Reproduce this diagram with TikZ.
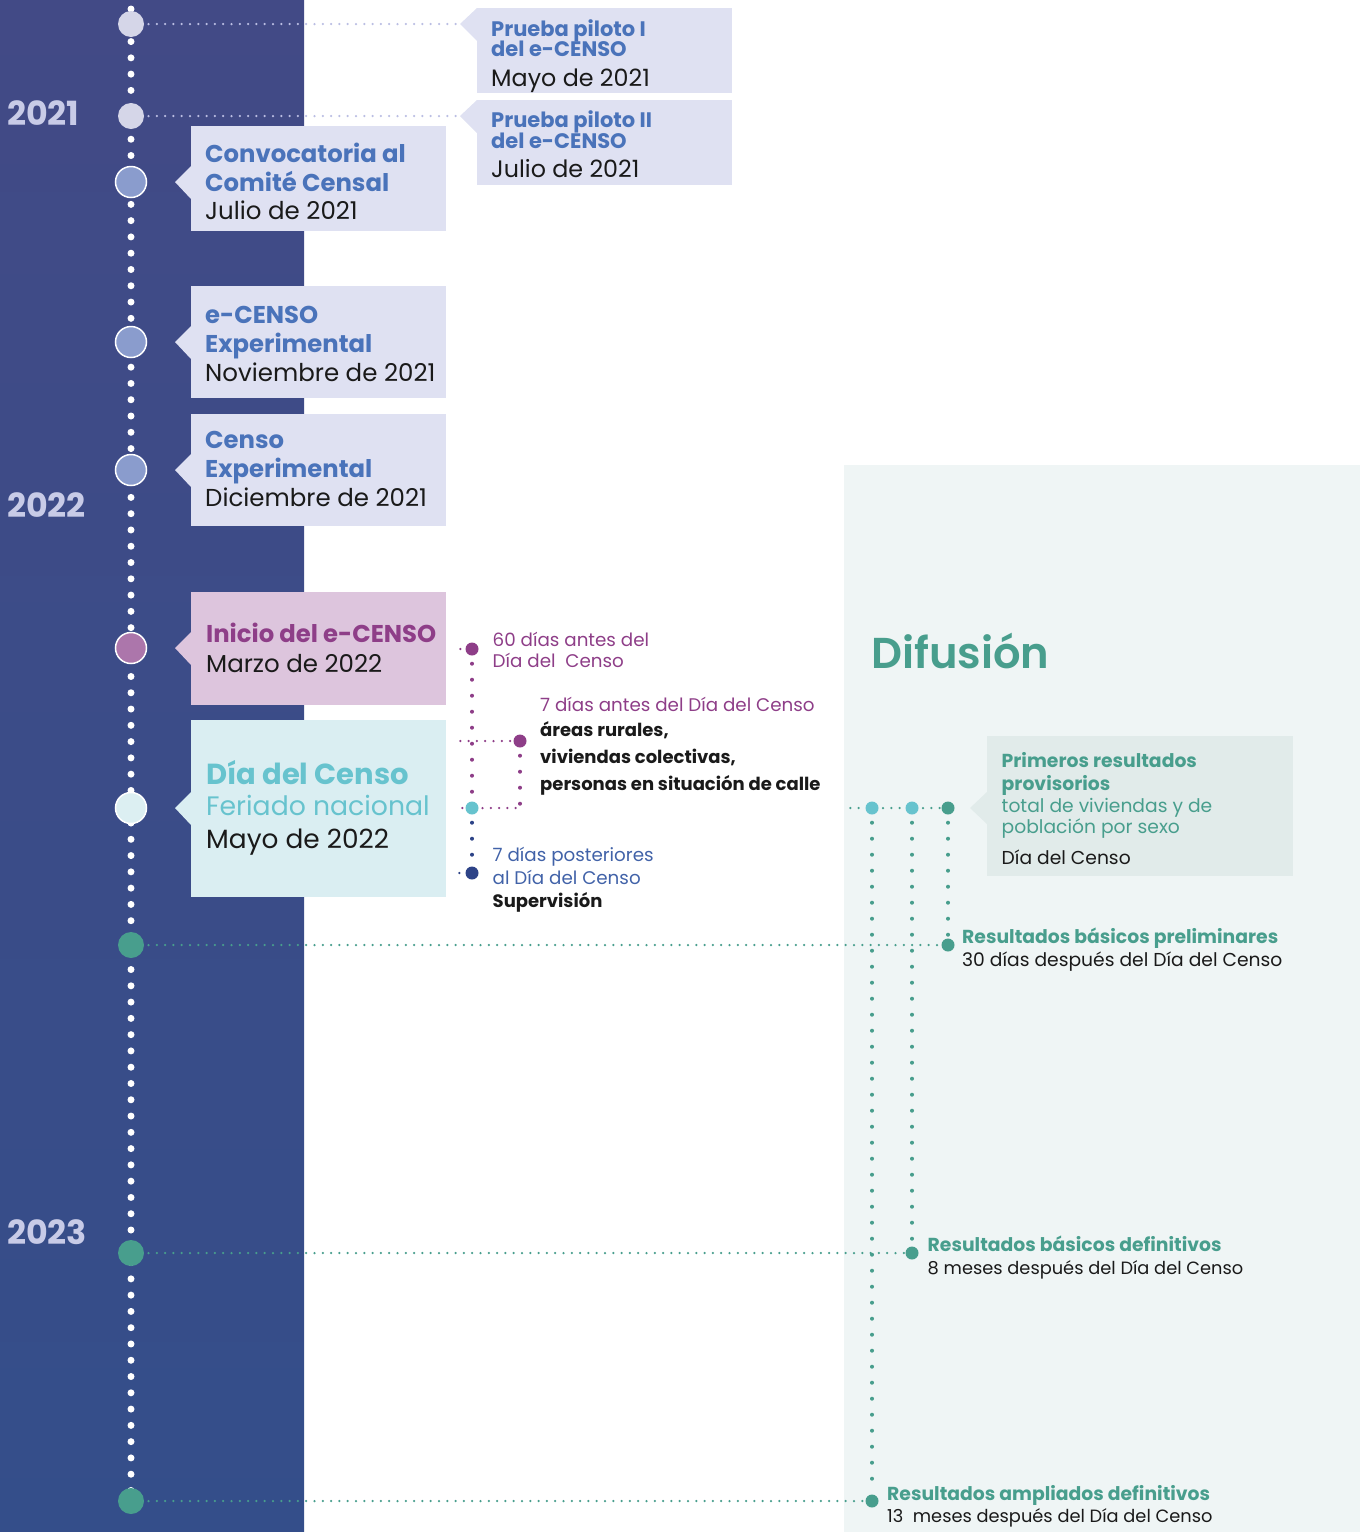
\documentclass[tikz,border=0pt]{standalone}
\usepackage{fontspec}
\setmainfont{Poppins}
\newfontfamily\semib{Poppins SemiBold}
\usetikzlibrary{positioning}

\definecolor{banda1}{RGB}{66,74,134}
\definecolor{banda2}{RGB}{52,78,138}
\definecolor{lavanda}{RGB}{223,225,242}
\definecolor{azulT}{RGB}{74,115,186}
\definecolor{hitoclaro}{RGB}{213,214,232}
\definecolor{hitomedio}{RGB}{138,156,205}
\definecolor{rosa}{RGB}{221,197,221}
\definecolor{morado}{RGB}{142,62,136}
\definecolor{moradoclaro}{RGB}{172,118,171}
\definecolor{celeste}{RGB}{218,238,242}
\definecolor{cian}{RGB}{103,195,206}
\definecolor{cianclaro}{RGB}{220,239,242}
\definecolor{verde}{RGB}{72,158,141}
\definecolor{anio}{RGB}{200,203,231}
\definecolor{panel}{RGB}{239,245,245}
\definecolor{panelcaja}{RGB}{225,235,234}
\definecolor{marino}{RGB}{45,67,135}
\definecolor{azultexto}{RGB}{65,98,168}
\definecolor{puntos}{RGB}{187,190,227}
\definecolor{texto}{RGB}{26,26,26}

\tikzset{
  caja/.style={fill=#1, anchor=north west, inner sep=0pt, minimum width=255pt},
  linea/.style={anchor=base west, inner sep=0pt},
  titA/.style={linea, text=azulT, font=\fontsize{21}{25}\selectfont\bfseries},
  fechaA/.style={linea, text=texto, font=\fontsize{23.8}{28}\selectfont},
  titB/.style={linea, text=#1, font=\fontsize{24.3}{29}\selectfont\bfseries},
  fechaB/.style={linea, text=texto, font=\fontsize{24.5}{29}\selectfont},
  chico/.style={linea, text=#1, font=\fontsize{18.3}{22}\selectfont},
  chicoN/.style={linea, text=#1, font=\fontsize{18}{22}\selectfont\bfseries},
  grande/.style={linea, text=#1, font=\fontsize{18.7}{22}\selectfont},
  grandeN/.style={linea, text=#1, font=\fontsize{18.8}{22}\selectfont\bfseries},
  anios/.style={linea, text=anio, font=\fontsize{33.3}{38}\selectfont\bfseries},
  hito/.style={circle, fill=#1, inner sep=0pt, minimum size=26pt},
  hitoborde/.style={circle, fill=#1, draw=white, line width=1.5pt, inner sep=0pt, minimum size=31pt},
  punto/.style={circle, fill=#1, inner sep=0pt, minimum size=13pt},
  trazo/.style={draw=#1, line width=2.5pt, line cap=round, dash pattern=on 0pt off 8.3pt, dash phase=4pt},
  vertical/.style={draw=#1, line width=4pt, line cap=round, dash pattern=on 0pt off 16pt, dash phase=8pt},
}

\begin{document}
\begin{tikzpicture}[x=1pt, y=-1pt]
  \useasboundingbox (0,0) rectangle (1360,1532);
  % fondos
  \shade[top color=banda1, bottom color=banda2] (0,0) rectangle (304,1532);
  \fill[panel] (844,465) rectangle (1360,1532);

  % linea de tiempo
  \coordinate (ini) at (131,9);
  \coordinate (fin) at (131,1523);
  \draw[white, line width=7pt, line cap=round, dash pattern=on 0pt off 16.28pt] (ini) -- (fin);

  \node[anios] (a21) at (7,125) {2021};
  \node[anios] (a22) at (7,517) {2022};
  \node[anios] (a23) at (7,1244) {2023};

  % cajas 2021
  \node[caja=lavanda, minimum height=85pt] (c1) at (477,8) {};
  \fill[lavanda] (477,8) -- (460,24) -- (477,41) -- cycle;
  \node[titA] (t1a) at (491,36) {Prueba piloto I};
  \node[titA] (t1b) at (491,56.5) {del e-CENSO};
  \node[fechaA] (f1) at (491,86) {Mayo de 2021};

  \node[caja=lavanda, minimum height=85pt] (c2) at (477,100) {};
  \fill[lavanda] (477,100) -- (460,116) -- (477,133) -- cycle;
  \node[titA] (t2a) at (491,127.5) {Prueba piloto II};
  \node[titA] (t2b) at (491,148.5) {del e-CENSO};
  \node[fechaA] (f2) at (491,177) {Julio de 2021};

  \node[caja=lavanda, minimum height=105pt] (c3) at (191,126) {};
  \fill[lavanda] (191,166) -- (175,182) -- (191,199) -- cycle;
  \node[titB=azulT] (t3a) at (205,162) {Convocatoria al};
  \node[titB=azulT] (t3b) at (205,191) {Comité Censal};
  \node[fechaB] (f3) at (205,219) {Julio de 2021};

  \node[caja=lavanda, minimum height=112pt] (c4) at (191,286) {};
  \fill[lavanda] (191,326) -- (175,342) -- (191,359) -- cycle;
  \node[titB=azulT] (t4a) at (205,323) {e-CENSO};
  \node[titB=azulT] (t4b) at (205,352) {Experimental};
  \node[fechaB] (f4) at (205,381) {Noviembre de 2021};

  \node[caja=lavanda, minimum height=112pt] (c5) at (191,414) {};
  \fill[lavanda] (191,454) -- (175,470) -- (191,487) -- cycle;
  \node[titB=azulT] (t5a) at (205,448) {Censo};
  \node[titB=azulT] (t5b) at (205,477) {Experimental};
  \node[fechaB] (f5) at (205,506) {Diciembre de 2021};

  % cajas 2022
  \node[caja=rosa, minimum height=113pt] (c6) at (191,592) {};
  \fill[rosa] (191,632) -- (175,648) -- (191,665) -- cycle;
  \node[titB=morado] (t6) at (206,642) {Inicio del e-CENSO};
  \node[fechaB] (f6) at (206,672) {Marzo de 2022};

  \node[caja=celeste, minimum height=177pt] (c7) at (191,720) {};
  \fill[celeste] (191,792) -- (175,808) -- (191,825) -- cycle;
  \node[linea, text=cian, font=\fontsize{29}{34}\selectfont\bfseries] (t7a) at (206,784) {Día del Censo};
  \node[linea, text=cian, font=\fontsize{26.7}{31}\selectfont] (t7b) at (206,815) {Feriado nacional};
  \node[linea, text=texto, font=\fontsize{26.4}{31}\selectfont] (f7) at (206,848) {Mayo de 2022};

  % hitos
  \node[hito=hitoclaro] (h1) at (131,24) {};
  \node[hito=hitoclaro] (h2) at (131,116) {};
  \node[hitoborde=hitomedio] (h3) at (131,182) {};
  \node[hitoborde=hitomedio] (h4) at (131,342) {};
  \node[hitoborde=hitomedio] (h5) at (131,470) {};
  \node[hitoborde=moradoclaro] (h6) at (131,648) {};
  \node[hitoborde=cianclaro] (h7) at (131,808) {};
  \node[hito=verde] (h8) at (131,945) {};
  \node[hito=verde] (h9) at (131,1253) {};
  \node[hito=verde] (h10) at (131,1501) {};

  \coordinate (p1) at (460,24);
  \coordinate (p2) at (460,116);
  \draw[trazo=puntos] (h1) -- (p1);
  \draw[trazo=puntos] (h2) -- (p2);

  % recoleccion
  \node[punto=morado] (m1) at (472,649) {};
  \node[punto=morado] (m2) at (520,741) {};
  \node[punto=cian] (m3) at (472,808) {};
  \node[punto=marino] (m4) at (472,873) {};
  \coordinate (s1) at (456,649);
  \coordinate (s2) at (456,741);
  \coordinate (s3) at (458,808);
  \coordinate (s4) at (455,873);
  \coordinate (esq) at (520,808);
  \draw[trazo=morado] (s1) -- (m1);
  \draw[vertical=morado] (m1) -- (m3);
  \draw[trazo=morado] (s2) -- (m2);
  \draw[vertical=morado] (m2) -- (esq);
  \draw[trazo=morado] (esq) -- (m3);
  \draw[trazo=morado] (s3) -- (m3);
  \draw[vertical=marino] (m3) -- (m4);
  \draw[trazo=marino] (s4) -- (m4);

  \node[chico=morado] (e1a) at (492.5,646) {60 días antes del};
  \node[chico=morado] (e1b) at (492.5,667) {Día del\ \ Censo};
  \node[chico=morado] (e2) at (540,711) {7 días antes del Día del Censo};
  \node[chicoN=texto] (e2a) at (540,736) {áreas rurales,};
  \node[chicoN=texto] (e2b) at (540,763) {viviendas colectivas,};
  \node[chicoN=texto] (e2c) at (540,790) {personas en situación de calle};
  \node[chico=azultexto] (e3a) at (492.5,861) {7 días posteriores};
  \node[chico=azultexto] (e3b) at (492.5,884) {al Día del Censo};
  \node[chicoN=texto] (e3c) at (492.5,907) {Supervisión};

  % difusion
  \node[linea, text=verde, font=\fontsize{43.2}{50}\selectfont\semib] (dif) at (871,668) {Difusión};

  \node[caja=panelcaja, minimum width=306pt, minimum height=140pt] (c8) at (987,736) {};
  \fill[panelcaja] (987,792) -- (970,808) -- (987,824) -- cycle;
  \node[grandeN=verde] (d1a) at (1001.5,767) {Primeros resultados};
  \node[grandeN=verde] (d1b) at (1001.5,790) {provisorios};
  \node[grande=verde] (d1c) at (1001.5,812) {total de viviendas y de};
  \node[grande=verde] (d1d) at (1001.5,833) {población por sexo};
  \node[grande=texto] (d1e) at (1001.5,864) {Día del Censo};

  \coordinate (r0) at (846,808);
  \node[punto=cian] (r1) at (872,808) {};
  \node[punto=cian] (r2) at (912,808) {};
  \node[punto=verde] (r4) at (948,808) {};
  \node[punto=verde] (r3) at (948,945) {};
  \node[punto=verde] (r5) at (912,1253) {};
  \node[punto=verde] (r6) at (872,1501) {};
  \draw[trazo=verde] (r0) -- (r1);
  \draw[trazo=verde] (r1) -- (r2);
  \draw[trazo=verde] (r2) -- (r4);
  \draw[vertical=verde] (r4) -- (r3);
  \draw[vertical=verde] (r2) -- (r5);
  \draw[vertical=verde] (r1) -- (r6);
  \draw[trazo=verde] (h8) -- (r3);
  \draw[trazo=verde] (h9) -- (r5);
  \draw[trazo=verde] (h10) -- (r6);

  \node[grandeN=verde] (d2a) at (962,943) {Resultados básicos preliminares};
  \node[grande=texto] (d2b) at (962,966) {30 días después del Día del Censo};
  \node[grandeN=verde] (d3a) at (927.5,1251) {Resultados básicos definitivos};
  \node[linea, text=texto, font=\fontsize{17.8}{21}\selectfont] (d3b) at (927.5,1274) {8 meses después del Día del Censo};
  \node[grandeN=verde] (d4a) at (887,1500) {Resultados ampliados definitivos};
  \node[linea, text=texto, font=\fontsize{17.8}{21}\selectfont] (d4b) at (887,1522) {13\ \ meses después del Día del Censo};
\end{tikzpicture}
\end{document}
